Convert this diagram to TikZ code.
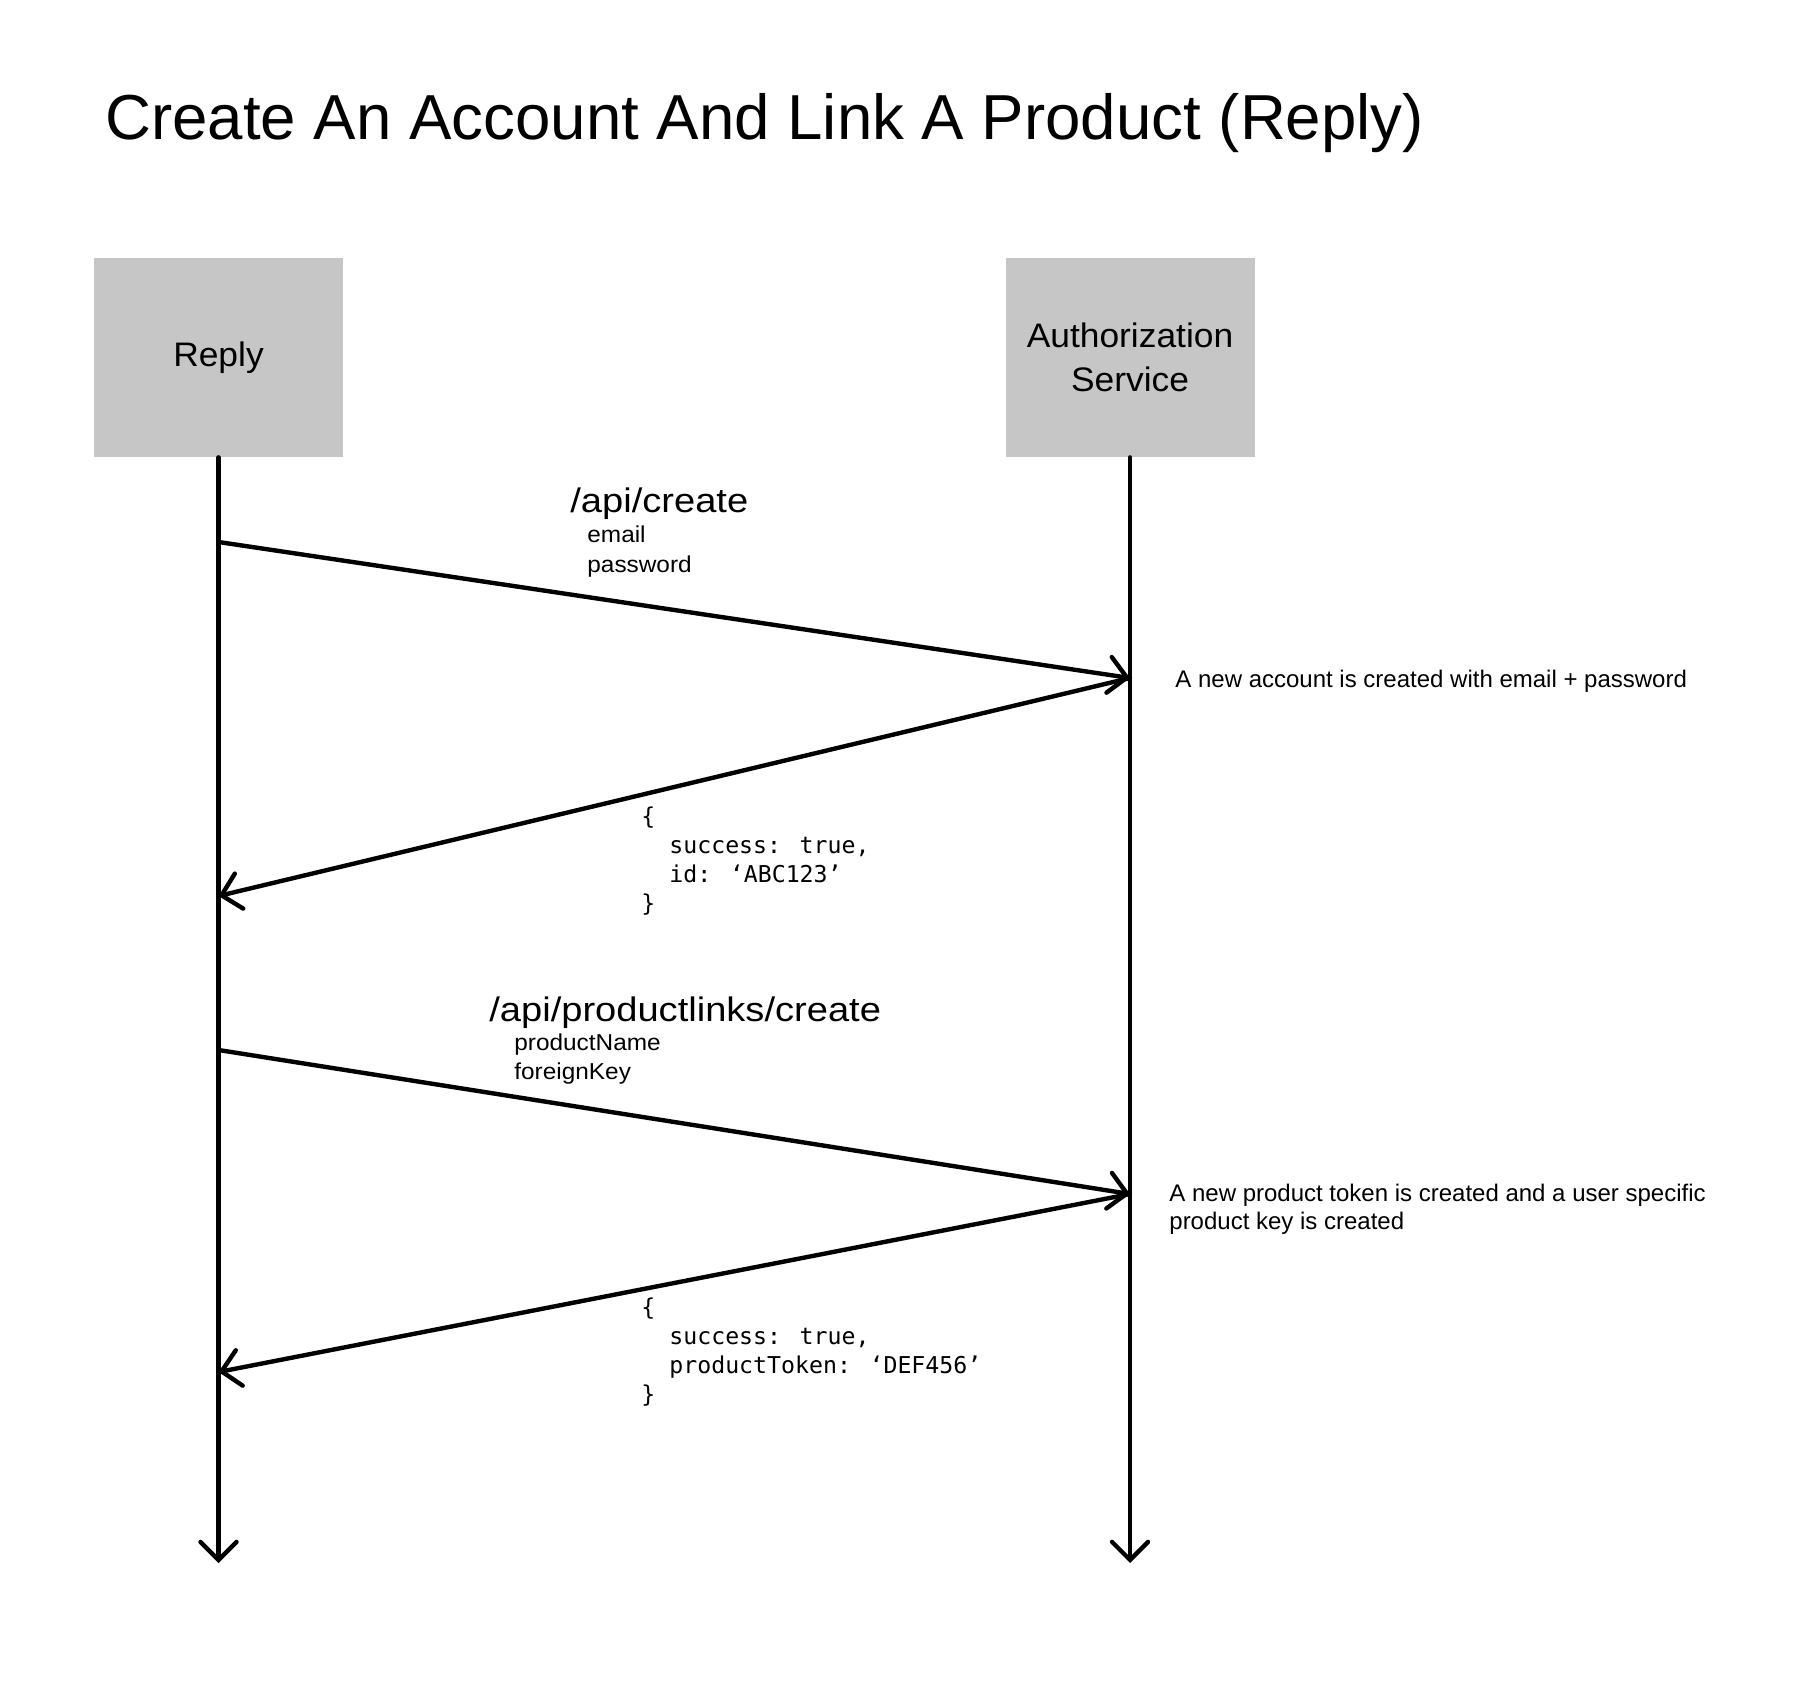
\documentclass[tikz,border=0pt]{standalone}
\usepackage{fontspec}
\setmainfont{Liberation Sans}
\newfontfamily\codefont{DejaVu Sans Mono}
\newfontfamily\bigfont[FakeStretch=1.12]{Liberation Sans}
\newfontfamily\smallfont[FakeStretch=1.06]{Liberation Sans}
\newfontfamily\actorfont[FakeStretch=1.04]{Liberation Sans}
\usetikzlibrary{arrows.meta}
\definecolor{boxgray}{HTML}{C6C6C6}
\tikzset{
  actor/.style={fill=boxgray, draw=none, minimum width=124.5pt, minimum height=99.5pt, inner sep=0pt, align=center, font=\actorfont\fontsize{17}{22}\selectfont},
  lifeline/.style={line width=2.2pt, line cap=round, -{Straight Barb[length=9pt,width=18pt,line width=2.2pt,line cap=round]}},
  msg/.style={line width=2.2pt, line cap=round, -{Straight Barb[length=9pt,width=18pt,line width=2.2pt,line cap=round]}},
  lbl/.style={anchor=base west, inner sep=0pt},
  big/.style={lbl, font=\bigfont\fontsize{17}{20}\selectfont},
  small/.style={lbl, font=\smallfont\fontsize{11.5}{14}\selectfont},
  note/.style={lbl, font=\fontsize{12}{14}\selectfont},
  code/.style={lbl, font=\codefont\fontsize{11.6}{14.5}\selectfont},
}
\begin{document}
\begin{tikzpicture}[x=0.5pt,y=-0.5pt]
\useasboundingbox (0,0) rectangle (1794,1706);
\fill[white] (0,0) rectangle (1794,1706);

\node[lbl, font=\fontsize{31.8}{38}\selectfont] (title) at (105,140) {Create An Account And Link A Product (Reply)};

\node[actor] (reply) at (218.5,357.5) {Reply};
\node[actor] (auth) at (1130,357.5) {Authorization\\Service};

\coordinate (replyend) at (218.5,1563);
\coordinate (authend) at (1130,1563);
\draw[lifeline] (reply.south) -- (replyend);
\draw[lifeline] (auth.south) -- (authend);

\coordinate (r1) at (218.5,542);
\coordinate (a1) at (1130,678);
\coordinate (r2) at (218.5,896);
\coordinate (r3) at (218.5,1050);
\coordinate (a3) at (1130,1194);
\coordinate (r4) at (218.5,1372);

\draw[msg] (r1) -- (a1);
\draw[msg] (a1) -- (r2);
\draw[msg] (r3) -- (a3);
\draw[msg] (a3) -- (r4);

\node[big] (l1) at (570,513) {/api/create};
\node[small] (l1a) at (587,543) {email};
\node[small] (l1b) at (587,572) {password};

\node[note] (n1) at (1175,687) {A new account is created with email + password};

\node[code] (c1a) at (641,824) {\{};
\node[code] (c1b) at (669,853) {success: true,};
\node[code] (c1c) at (669,882) {id: ‘ABC123’};
\node[code] (c1d) at (641,911) {\}};

\node[big] (l3) at (489,1021) {/api/productlinks/create};
\node[small] (l3a) at (514,1050) {productName};
\node[small] (l3b) at (514,1079) {foreignKey};

\node[note] (n3a) at (1169,1201) {A new product token is created and a user specific};
\node[note] (n3b) at (1169,1229) {product key is created};

\node[code] (c2a) at (641,1315) {\{};
\node[code] (c2b) at (669,1344) {success: true,};
\node[code] (c2c) at (669,1373) {productToken: ‘DEF456’};
\node[code] (c2d) at (641,1402) {\}};
\end{tikzpicture}
\end{document}
